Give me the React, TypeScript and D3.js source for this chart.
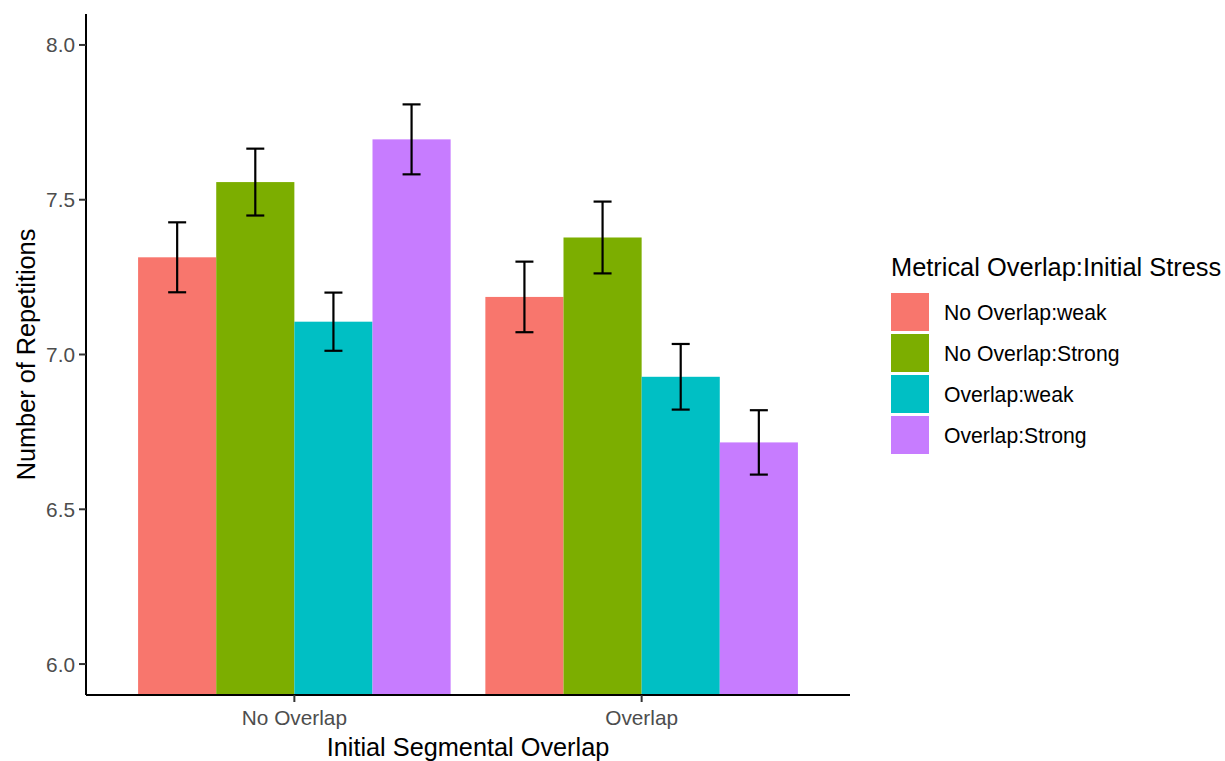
import * as d3 from 'd3';

// chart data
const groups = ['No Overlap', 'Overlap'];
const series = ['No Overlap:weak', 'No Overlap:Strong', 'Overlap:weak', 'Overlap:Strong'];
const colors = ['#F8766D', '#7CAE00', '#00BFC4', '#C77CFF'];
// means per series, one value per group
const means = [
  [7.314, 7.186],
  [7.557, 7.378],
  [7.106, 6.928],
  [7.695, 6.716],
];
// half-width of the error bars
const errs = [
  [0.113, 0.114],
  [0.108, 0.116],
  [0.094, 0.106],
  [0.113, 0.104],
];
const yTicks = [6.0, 6.5, 7.0, 7.5, 8.0];

const FONT = '"Liberation Sans", Arial, sans-serif';

const App = () => {
  const width = 1225;
  const height = 761;
  const left = 86;
  const right = 850;
  const top = 14;
  const bottom = 695;

  const x = d3.scalePoint().domain(groups).range([left, right]).padding(0.6);
  const step = x.step();
  const inner = d3.scaleBand().domain(series).range([-0.45 * step, 0.45 * step]).padding(0);
  const y = d3.scaleLinear().domain([5.9, 8.1]).range([bottom, top]);
  const capW = 18;

  return (
    <svg width={width} height={height} style={{ display: 'block', background: '#fff' }} fontFamily={FONT}>
      <style>{'body{margin:0}'}</style>
      <defs>
        <clipPath id="panel">
          <rect x={left} y={top} width={right - left} height={bottom - top} />
        </clipPath>
      </defs>

      {/* bars */}
      <g clipPath="url(#panel)">
        {series.map((s, si) =>
          groups.map((g, gi) => {
            const x0 = (x(g) as number) + (inner(s) as number);
            return (
              <rect
                key={s + g}
                x={x0}
                y={y(means[si][gi])}
                width={inner.bandwidth()}
                height={bottom - y(means[si][gi])}
                fill={colors[si]}
              />
            );
          })
        )}
      </g>

      {/* error bars */}
      {series.map((s, si) =>
        groups.map((g, gi) => {
          const cx = (x(g) as number) + (inner(s) as number) + inner.bandwidth() / 2;
          const hi = y(means[si][gi] + errs[si][gi]);
          const lo = y(means[si][gi] - errs[si][gi]);
          return (
            <g key={'e' + s + g} stroke="#000" strokeWidth={2.2}>
              <line x1={cx} x2={cx} y1={hi} y2={lo} />
              <line x1={cx - capW / 2} x2={cx + capW / 2} y1={hi} y2={hi} />
              <line x1={cx - capW / 2} x2={cx + capW / 2} y1={lo} y2={lo} />
            </g>
          );
        })
      )}

      {/* y axis */}
      <line x1={left} x2={left} y1={top} y2={bottom} stroke="#000" strokeWidth={2} />
      {yTicks.map(t => (
        <g key={t}>
          <line x1={left - 7} x2={left} y1={y(t)} y2={y(t)} stroke="#333" strokeWidth={2} />
          <text x={left - 11} y={y(t)} dy="0.36em" textAnchor="end" fontSize={20.8} fill="#4d4d4d">
            {d3.format('.1f')(t)}
          </text>
        </g>
      ))}

      {/* x axis */}
      <line x1={left} x2={right} y1={bottom} y2={bottom} stroke="#000" strokeWidth={2} />
      {groups.map(g => (
        <g key={g}>
          <line x1={x(g)} x2={x(g)} y1={bottom} y2={bottom + 7} stroke="#333" strokeWidth={2} />
          <text x={x(g)} y={725} textAnchor="middle" fontSize={20.8} fill="#4d4d4d">
            {g}
          </text>
        </g>
      ))}

      {/* axis titles */}
      <text x={(left + right) / 2} y={756} textAnchor="middle" fontSize={25.3} fill="#000">
        Initial Segmental Overlap
      </text>
      <text
        transform={`translate(35,${(top + bottom) / 2}) rotate(-90)`}
        textAnchor="middle"
        fontSize={25.3}
        fill="#000"
      >
        Number of Repetitions
      </text>

      {/* legend */}
      <text x={891} y={276} fontSize={25.4} fill="#000">
        Metrical Overlap:Initial Stress
      </text>
      {series.map((s, i) => (
        <g key={'l' + s} transform={`translate(891,${293 + i * 41})`}>
          <rect width={38} height={38} fill={colors[i]} />
          <text x={53} y={19} dy="0.36em" fontSize={21.2} fill="#000">
            {s}
          </text>
        </g>
      ))}
    </svg>
  );
};

export default App;
